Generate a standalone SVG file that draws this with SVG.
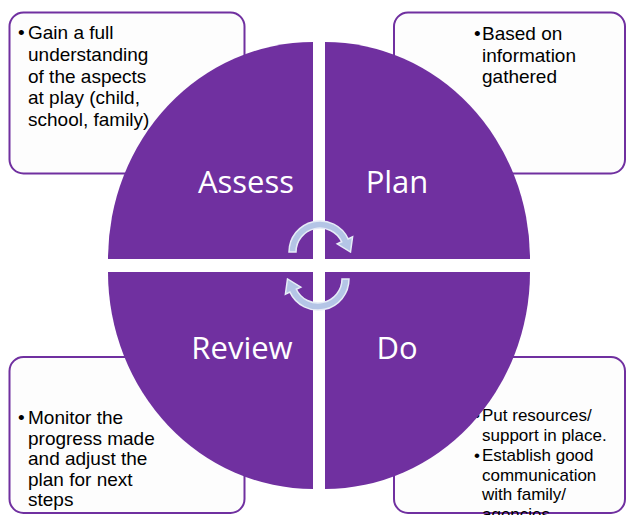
<svg xmlns="http://www.w3.org/2000/svg" width="626" height="515" viewBox="0 0 626 515">
<style>
.box{fill:#fdfdfd;stroke:#7030a0;stroke-width:2}
.bt{font-family:"Liberation Sans",Arial,sans-serif;font-size:19px;fill:#000}
.bt2{font-family:"Liberation Sans",Arial,sans-serif;font-size:17px;fill:#000}
.q{fill:#7030a0}
.lbl{font-family:"Open Sans","Noto Sans",sans-serif;font-size:31px;fill:#fff;text-anchor:middle}
.arr{fill:#b4c5e6;stroke:#e6ecf7;stroke-width:1.5}
</style>
<defs>
<path id="arc" d="M 289,252 A 31,31 0 0 1 348.1,238.9 L 352.6,236.8 L 350.5,252.1 L 337.2,243.9 L 341.7,241.8 A 24,24 0 0 0 296,252 Z"/>
</defs>
<rect width="626" height="515" fill="#fff"/>
<g id="box-assess">
<rect class="box" x="9.5" y="12.5" width="235" height="161" rx="14"/>
<text class="bt"><tspan x="18" y="39">•</tspan><tspan x="28" y="39">Gain a full</tspan><tspan x="28" y="61">understanding</tspan><tspan x="28" y="82.5">of the aspects</tspan><tspan x="28" y="104">at play (child,</tspan><tspan x="28" y="125.5">school, family)</tspan></text>
</g>
<g id="box-plan">
<rect class="box" x="394" y="12.5" width="231" height="161" rx="14"/>
<text class="bt"><tspan x="474" y="40">•</tspan><tspan x="482" y="40">Based on</tspan><tspan x="482" y="61.5">information</tspan><tspan x="482" y="83">gathered</tspan></text>
</g>
<g id="box-review">
<rect class="box" x="9.5" y="357" width="235" height="156" rx="14"/>
<text class="bt"><tspan x="18" y="424">•</tspan><tspan x="28" y="424">Monitor the</tspan><tspan x="28" y="444.5">progress made</tspan><tspan x="28" y="465">and adjust the</tspan><tspan x="28" y="485.5">plan for next</tspan><tspan x="28" y="506">steps</tspan></text>
</g>
<g id="box-do">
<rect class="box" x="394" y="357" width="231" height="156" rx="14"/>
<text class="bt2"><tspan x="474" y="421">•</tspan><tspan x="482" y="421">Put resources/</tspan><tspan x="482" y="441">support in place.</tspan><tspan x="474" y="461">•</tspan><tspan x="482" y="461">Establish good</tspan><tspan x="482" y="480.5">communication</tspan><tspan x="482" y="500">with family/</tspan><tspan x="482" y="519.5">agencies.</tspan></text>
</g>
<g id="assess">
<path class="q" d="M 313,259 L 108,259 A 205,217 0 0 1 313,42 Z"/>
<text class="lbl" x="246" y="193">Assess</text>
</g>
<g id="plan">
<path class="q" d="M 325,259 L 325,42 A 205,217 0 0 1 530,259 Z"/>
<text class="lbl" x="397" y="193">Plan</text>
</g>
<g id="review">
<path class="q" d="M 313,272 L 313,489 A 205,217 0 0 1 108,272 Z"/>
<text class="lbl" x="242" y="359">Review</text>
</g>
<g id="do">
<path class="q" d="M 325,272 L 530,272 A 205,217 0 0 1 325,489 Z"/>
<text class="lbl" x="397" y="359">Do</text>
</g>
<g id="connectors">
<use href="#arc" class="arr"/>
<use href="#arc" class="arr" transform="rotate(180 319 265.5)"/>
</g>
</svg>
